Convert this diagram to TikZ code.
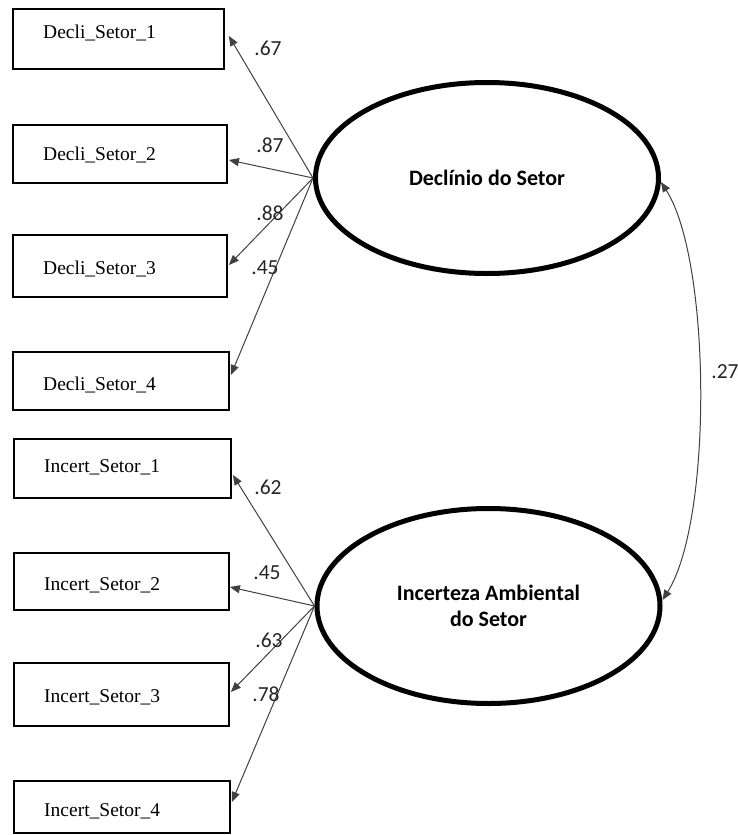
\documentclass[tikz,border=0pt]{standalone}
\usepackage{fontspec}
\setmainfont{Liberation Serif}
\newfontfamily\numfont{Carlito}
\usetikzlibrary{shapes.geometric,arrows.meta}
\tikzset{
  obs/.style={draw=black, line width=1.8pt, rectangle, inner sep=0pt},
  obstext/.style={anchor=base west, inner sep=0pt, font=\fontsize{19.5}{23}\selectfont},
  lat/.style={draw=black, line width=5pt, ellipse, inner sep=0pt, minimum width=343pt, minimum height=191pt,
    align=center, font=\numfont\bfseries\fontsize{22}{26}\selectfont},
  arr/.style={draw=black!75, line width=1pt, -{Triangle[length=10pt,width=8pt]}},
  coef/.style={font=\numfont\fontsize{21.5}{24}\selectfont, inner sep=0pt, text=black!85}
}
\begin{document}
\begin{tikzpicture}[x=1pt,y=1pt]
\useasboundingbox (0,0) rectangle (738,-835);
% observed boxes
\node[obs, minimum width=211pt, minimum height=60pt] (d1) at (118.5,-39) {};
\node[obs, minimum width=214pt, minimum height=58pt] (d2) at (120,-154) {};
\node[obs, minimum width=214pt, minimum height=62pt] (d3) at (120,-266) {};
\node[obs, minimum width=216pt, minimum height=58pt] (d4) at (121,-381) {};
\node[obs, minimum width=217pt, minimum height=59pt] (i1) at (122.5,-468.5) {};
\node[obs, minimum width=215pt, minimum height=57pt] (i2) at (121.5,-581.5) {};
\node[obs, minimum width=215pt, minimum height=63pt] (i3) at (121.5,-694.5) {};
\node[obs, minimum width=216pt, minimum height=52pt] (i4) at (122,-807) {};
% box texts
\node[obstext] (d1t) at (43,-38) {Decli\_Setor\_1};
\node[obstext] (d2t) at (43,-160) {Decli\_Setor\_2};
\node[obstext] (d3t) at (43,-274) {Decli\_Setor\_3};
\node[obstext] (d4t) at (43,-390) {Decli\_Setor\_4};
\node[obstext] (i1t) at (44,-472) {Incert\_Setor\_1};
\node[obstext] (i2t) at (44,-590) {Incert\_Setor\_2};
\node[obstext] (i3t) at (44,-702) {Incert\_Setor\_3};
\node[obstext] (i4t) at (44,-816) {Incert\_Setor\_4};
% latent ellipses
\node[lat] (e1) at (487,-178) {Declínio do Setor};
\node[lat, minimum height=195pt] (e2) at (488.5,-606) {Incerteza Ambiental\\do Setor};
% loadings
\draw[arr] (e1.west) -- ([xshift=4pt,yshift=3pt]d1.east);
\draw[arr] (e1.west) -- ([xshift=1pt,yshift=-6pt]d2.east);
\draw[arr] (e1.west) -- ([xshift=1pt,yshift=1pt]d3.east);
\draw[arr] (e1.west) -- ([xshift=1pt,yshift=6pt]d4.east);
\draw[arr] (e2.west) -- ([xshift=1pt,yshift=-6.5pt]i1.east);
\draw[arr] (e2.west) -- ([xshift=0pt,yshift=-5.5pt]i2.east);
\draw[arr] (e2.west) -- ([xshift=1pt,yshift=2.5pt]i3.east);
\draw[arr] (e2.west) -- ([xshift=1pt,yshift=5pt]i4.east);
% covariance
\draw[draw=black!75, line width=1pt, {Triangle[length=10pt,width=8pt]}-{Triangle[length=10pt,width=8pt]}]
  ([yshift=-4pt]e1.east) .. controls (711,-260) and (713,-520) .. ([yshift=6pt]e2.east);
% coefficients
\node[coef] (c1) at (268,-48) {.67};
\node[coef] (c2) at (270,-145) {.87};
\node[coef] (c3) at (270,-213) {.88};
\node[coef] (c4) at (265,-268) {.45};
\node[coef] (c5) at (268,-487) {.62};
\node[coef] (c6) at (267,-573) {.45};
\node[coef] (c7) at (269,-640) {.63};
\node[coef] (c8) at (266,-694) {.78};
\node[coef] (c9) at (725,-372) {.27};
\end{tikzpicture}
\end{document}
